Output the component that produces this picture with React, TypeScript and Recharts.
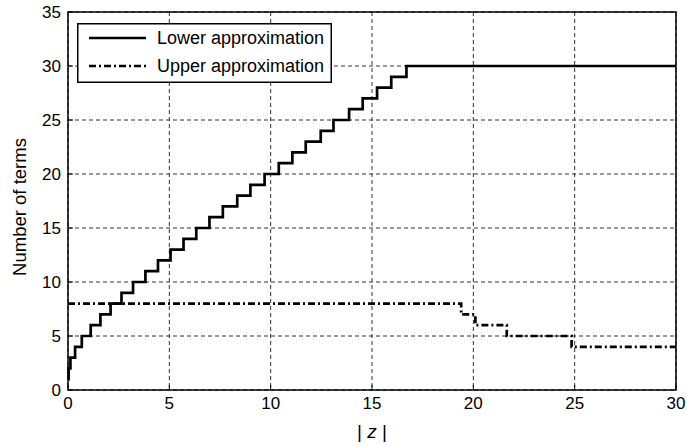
import {
  CartesianGrid,
  Line,
  LineChart,
  ReferenceArea,
  XAxis,
  YAxis,
} from "recharts";

// step positions (|z| where the count changes) and the term counts
const lowerZ = [
  0, 0.03, 0.12, 0.35, 0.68, 1.12, 1.6, 2.1, 2.64, 3.21, 3.82, 4.44, 5.06,
  5.7, 6.33, 6.98, 7.64, 8.35, 9.0, 9.7, 10.4, 11.07, 11.73, 12.47, 13.1,
  13.87, 14.54, 15.25, 15.95, 16.7, 30,
];
const lowerTerms = [
  1, 2, 3, 4, 5, 6, 7, 8, 9, 10, 11, 12, 13, 14, 15, 16, 17, 18, 19, 20, 21,
  22, 23, 24, 25, 26, 27, 28, 29, 30, 30,
];
const upperZ = [0, 19.4, 20.1, 21.65, 24.85, 30];
const upperTerms = [8, 7, 6, 5, 4, 4];

const zTicks = [0, 5, 10, 15, 20, 25, 30];
const termTicks = [0, 5, 10, 15, 20, 25, 30, 35];

const FONT = '"Liberation Sans", Arial, Helvetica, sans-serif';
const DASH_DOT = "7 3 2 3";

const lowerData = lowerZ.map((z, i) => ({ z, terms: lowerTerms[i] }));
const upperData = upperZ.map((z, i) => ({ z, terms: upperTerms[i] }));

const TICK_GAP = 7;

function BottomTick(props: any) {
  const { x, y, payload } = props;
  const axisY = y - TICK_GAP;
  return (
    <g>
      <line x1={x} x2={x} y1={axisY} y2={axisY - 5} stroke="#000" />
      <text
        x={x}
        y={y}
        dy={12}
        textAnchor="middle"
        fontSize={17}
        fontFamily={FONT}
        fill="#000"
      >
        {payload.value}
      </text>
    </g>
  );
}

function LeftTick(props: any) {
  const { x, y, payload } = props;
  const axisX = x + TICK_GAP;
  return (
    <g>
      <line x1={axisX} x2={axisX + 5} y1={y} y2={y} stroke="#000" />
      <text
        x={x}
        y={y}
        dy={6}
        textAnchor="end"
        fontSize={17}
        fontFamily={FONT}
        fill="#000"
      >
        {payload.value}
      </text>
    </g>
  );
}

function Legend() {
  return (
    <svg
      width={255}
      height={60}
      style={{ position: "absolute", left: 77, top: 23 }}
    >
      <rect
        x={0.75}
        y={0.75}
        width={253.5}
        height={58.5}
        fill="#fff"
        stroke="#000"
        strokeWidth={1.5}
      />
      <line x1={12} x2={69} y1={15} y2={15} stroke="#000" strokeWidth={2.7} />
      <line
        x1={12}
        x2={69}
        y1={43}
        y2={43}
        stroke="#000"
        strokeWidth={2.7}
        strokeDasharray={DASH_DOT}
      />
      <text x={80} y={21} fontSize={18} fontFamily={FONT} fill="#000">
        Lower approximation
      </text>
      <text x={80} y={49} fontSize={18} fontFamily={FONT} fill="#000">
        Upper approximation
      </text>
    </svg>
  );
}

export default function App() {
  return (
    <div
      style={{
        position: "absolute",
        left: 0,
        top: 0,
        width: 687,
        height: 446,
        background: "#fff",
      }}
    >
      <LineChart
        width={687}
        height={446}
        margin={{ top: 12, right: 11, bottom: 26, left: 8 }}
      >
        <CartesianGrid stroke="#333" strokeDasharray="4 3" />
        <XAxis
          dataKey="z"
          type="number"
          domain={[0, 30]}
          ticks={zTicks}
          height={30}
          axisLine={false}
          tickLine={false}
          tickSize={0}
          tickMargin={TICK_GAP}
          tick={(p: any) => <BottomTick {...p} />}
          label={(p: any) => {
            const vb = p.viewBox;
            return (
              <text
                x={vb.x + vb.width / 2}
                y={vb.y + 48}
                textAnchor="middle"
                fontSize={19}
                fontFamily={FONT}
                fill="#000"
              >
                <tspan>|</tspan>
                <tspan fontStyle="italic"> z </tspan>
                <tspan>|</tspan>
              </text>
            );
          }}
        />
        <YAxis
          type="number"
          domain={[0, 35]}
          ticks={termTicks}
          width={60}
          axisLine={false}
          tickLine={false}
          tickSize={0}
          tickMargin={TICK_GAP}
          tick={(p: any) => <LeftTick {...p} />}
          label={(p: any) => {
            const vb = p.viewBox;
            const cx = vb.x + 12;
            const cy = vb.y + 195;
            return (
              <text
                x={cx}
                y={cy}
                transform={`rotate(-90 ${cx} ${cy})`}
                textAnchor="middle"
                dy={6}
                fontSize={18.5}
                fontFamily={FONT}
                fill="#000"
              >
                Number of terms
              </text>
            );
          }}
        />
        <Line
          data={lowerData}
          dataKey="terms"
          type="stepAfter"
          stroke="#000"
          strokeWidth={2.7}
          dot={false}
          isAnimationActive={false}
        />
        <Line
          data={upperData}
          dataKey="terms"
          type="stepAfter"
          stroke="#000"
          strokeWidth={2.7}
          strokeDasharray={DASH_DOT}
          dot={false}
          isAnimationActive={false}
        />
        <ReferenceArea
          x1={0}
          x2={30}
          y1={0}
          y2={35}
          fill="none"
          stroke="#000"
          strokeWidth={1.5}
          ifOverflow="visible"
        />
      </LineChart>
      <Legend />
    </div>
  );
}
